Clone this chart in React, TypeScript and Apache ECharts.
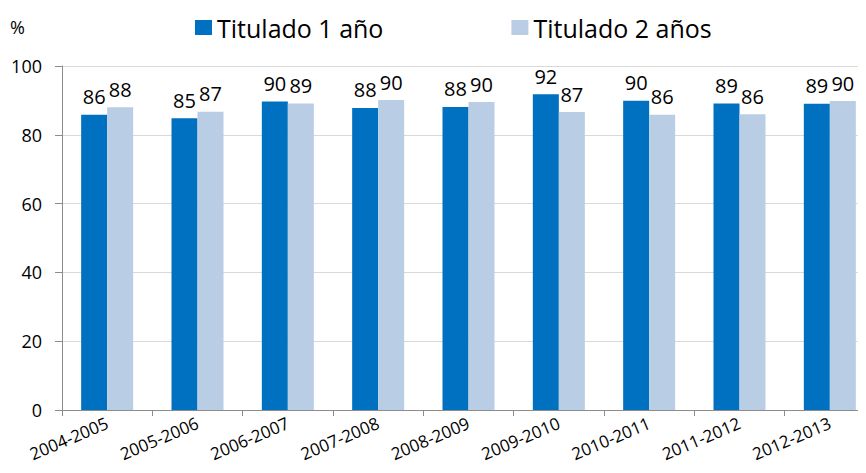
import React, { useEffect, useRef } from "react";
import * as echarts from "echarts";

const categories = ["2004-2005", "2005-2006", "2006-2007", "2007-2008", "2008-2009", "2009-2010", "2010-2011", "2011-2012", "2012-2013"];
const titulado1 = [85.8, 84.8, 89.7, 87.8, 88.1, 91.8, 89.9, 89.1, 89.0];
const titulado2 = [88.0, 86.7, 89.1, 90.1, 89.5, 86.6, 85.8, 86.0, 89.8];
const seriesNames = ["Titulado 1 año", "Titulado 2 años"];
const yTicks = { min: 0, max: 100, interval: 20 };

const FONT = "Open Sans";

export default function App() {
  const ref = useRef<HTMLDivElement>(null);
  useEffect(() => {
    if (!ref.current) return;
    const chart = echarts.init(ref.current, null, { renderer: "svg" });
    const labelStyle = {
      show: true,
      position: "top" as const,
      distance: 8,
      fontFamily: FONT,
      fontSize: 20,
      color: "#000",
      formatter: (p: any) => Math.round(p.value).toString(),
    };
    chart.setOption({
      animation: false,
      backgroundColor: "#fff",
      textStyle: { fontFamily: FONT },
      legend: {
        left: 190,
        top: 10,
        itemWidth: 17,
        itemHeight: 15,
        itemGap: 128,
        icon: "rect",
        textStyle: { fontFamily: FONT, fontSize: 25, color: "#000" },
        data: seriesNames,
      },
      graphic: [
        {
          type: "text",
          left: 10,
          top: 18,
          style: { text: "%", fontFamily: FONT, fontSize: 18, fill: "#000" },
        },
      ],
      grid: { left: 62, right: -9, top: 66, bottom: 63, outerBoundsMode: "none", containLabel: false },
      xAxis: {
        type: "category",
        data: categories,
        axisLine: { lineStyle: { color: "#8c8c8c", width: 1 } },
        axisTick: { show: true, length: 6, lineStyle: { color: "#8c8c8c" } },
        axisLabel: {
          rotate: 23,
          fontFamily: FONT,
          fontSize: 17,
          color: "#000",
          margin: 12,
        },
      },
      yAxis: {
        type: "value",
        min: yTicks.min,
        max: yTicks.max,
        interval: yTicks.interval,
        axisLine: { show: true, lineStyle: { color: "#8c8c8c" } },
        axisTick: { show: true, length: 7, lineStyle: { color: "#8c8c8c" } },
        splitLine: { show: true, lineStyle: { color: "#d9d9d9" } },
        axisLabel: { fontFamily: FONT, fontSize: 18, color: "#000", margin: 20 },
      },
      series: [
        {
          name: seriesNames[0],
          type: "bar",
          data: titulado1,
          barWidth: 26,
          barGap: "0%",
          itemStyle: { color: "#0070C0" },
          label: labelStyle,
        },
        {
          name: seriesNames[1],
          type: "bar",
          data: titulado2,
          barWidth: 26,
          barGap: "0%",
          itemStyle: { color: "#B9CDE5" },
          label: labelStyle,
        },
      ],
    });
    return () => chart.dispose();
  }, []);
  return <div ref={ref} style={{ width: 866, height: 473, margin: -8 }} />;
}
